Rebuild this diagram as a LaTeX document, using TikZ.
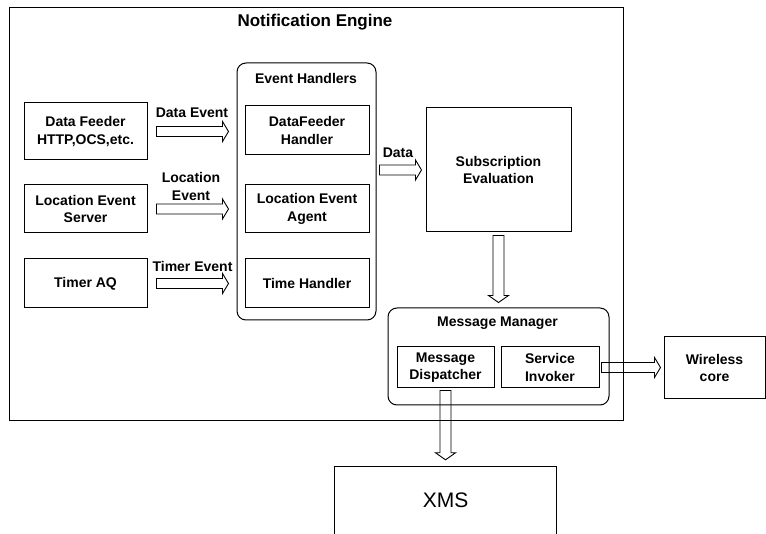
\documentclass[tikz,border=0pt]{standalone}
\usepackage{fontspec}
\setmainfont{Liberation Sans}
\usetikzlibrary{calc}
\newcommand\lbl{\bfseries\fontsize{14}{17.5}\selectfont}
\newcommand\hollowH[2]{\draw[arr] let \p1=(#1), \p2=(#2) in (\x1,\y1-5) -- (\x2-6,\y1-5) -- (\x2-6,\y1-10) -- (\x2,\y1) -- (\x2-6,\y1+10) -- (\x2-6,\y1+5) -- (\x1,\y1+5) -- cycle;}
\newcommand\hollowV[2]{\draw[arr] let \p1=(#1), \p2=(#2) in (\x1-5.5,\y1) -- (\x1-5.5,\y2+7) -- (\x1-10,\y2+7) -- (\x1,\y2) -- (\x1+10,\y2+7) -- (\x1+5.5,\y2+7) -- (\x1+5.5,\y1) -- cycle;}
\tikzset{
  box/.style={draw, line width=1pt, align=center, inner sep=0pt, font=\lbl},
  rbox/.style={box, rounded corners=9pt},
  arr/.style={line width=0.9pt, line join=miter},
  lab/.style={align=center, inner sep=0pt, font=\lbl}
}
\begin{document}
\begin{tikzpicture}[x=1pt,y=-1pt]
\useasboundingbox (0,0) rectangle (766,534);
% outer engine
\node[box, minimum width=614, minimum height=413] (engine) at (316,214.5) {};
\node[lab, font=\bfseries\fontsize{17}{20}\selectfont] (title) at (315,22) {Notification Engine};
% event handlers group
\node[rbox, minimum width=139, minimum height=257] (handlers) at (306.5,191.5) {};
\node[lab] (hlabel) at (306,79) {Event Handlers};
\node[box, minimum width=124, minimum height=49] (dfh) at (307,130.5) {DataFeeder\\Handler};
\node[box, minimum width=124, minimum height=48] (lea) at (307,209) {Location Event\\Agent};
\node[box, minimum width=124, minimum height=49] (th) at (307,283.5) {Time Handler};
% sources
\node[box, minimum width=123, minimum height=57] (df) at (85.5,131.5) {Data Feeder\\HTTP,OCS,etc.};
\node[box, minimum width=123, minimum height=48] (les) at (85.5,209) {Location Event\\Server};
\node[box, minimum width=123, minimum height=49] (taq) at (85.5,283.5) {Timer AQ};
% subscription
\node[box, minimum width=145, minimum height=124] (sub) at (498.5,170) {Subscription\\Evaluation};
% message manager
\node[rbox, minimum width=221, minimum height=97] (mm) at (498.5,356.5) {};
\node[lab] (mmlabel) at (497.5,323) {Message Manager};
\node[box, minimum width=97, minimum height=41] (md) at (445.5,367.5) {Message\\Dispatcher};
\node[box, minimum width=98, minimum height=41] (si) at (550,367.5) {Service\\Invoker};
% external
\node[box, minimum width=101, minimum height=62] (wc) at (714.5,368) {Wireless\\core};
\node[lab, font=\fontsize{21}{24}\selectfont, minimum width=221, minimum height=66] (xms) at (445.5,500) {XMS};
\draw[line width=1pt] ([yshift=-68pt]xms.north west) -- (xms.north west) -- (xms.north east) -- ([yshift=-68pt]xms.north east);
% arrows
\hollowH{$(df.east)+(9,0)$}{$(handlers.west)+(-8,0)$}
\hollowH{$(les.east)+(9,0)$}{$(handlers.west)+(-8,0)$}
\hollowH{$(taq.east)+(9,0)$}{$(handlers.west)+(-8,0)$}
\hollowH{$(sub.west -| handlers.east)+(3,0)$}{$(sub.west)+(-4,0)$}
\hollowH{$(si.east)+(2,0)$}{$(wc.west)+(-3,0)$}
\hollowV{$(sub.south)+(0,3)$}{$(mm.north)+(0,-5)$}
\hollowV{$(md.south)+(0,2)$}{$(xms.north)+(0,-7)$}
% arrow labels
\node[lab] (l1) at (192,113) {Data Event};
\node[lab] (l2) at (191,186.5) {Location\\Event};
\node[lab] (l3) at (192.5,266) {Timer Event};
\node[lab] (l4) at (398,153) {Data};
\end{tikzpicture}
\end{document}
